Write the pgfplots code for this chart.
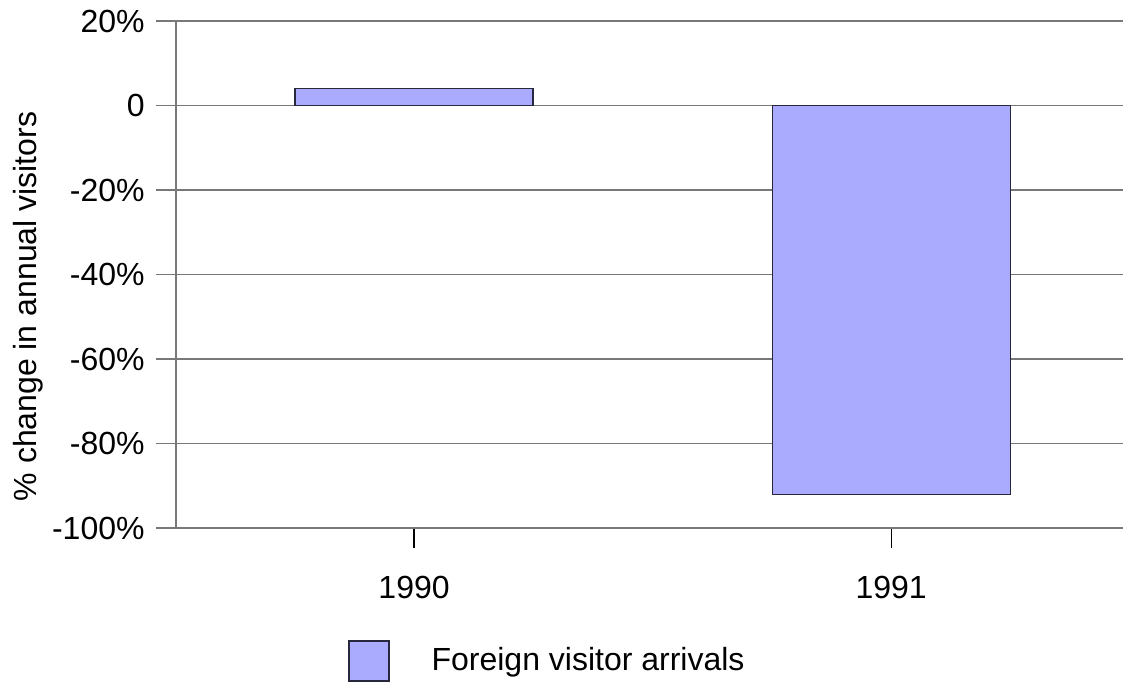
\documentclass[border=0pt]{standalone}
\usepackage{pgfplots}
\pgfplotsset{compat=1.18}
\usepackage{fontspec}
\setmainfont{Liberation Sans}
\definecolor{barfill}{RGB}{170,170,255}
\definecolor{baredge}{RGB}{40,40,60}
\definecolor{gridgray}{RGB}{120,120,120}
\begin{document}
\fontsize{16pt}{19pt}\selectfont
\begin{tikzpicture}
\begin{axis}[
  name=ax,
  scale only axis,
  width=473.5pt, height=253.5pt,
  xmin=-0.499, xmax=1.486,
  ymin=-100, ymax=20,
  axis lines*=left,
  axis line style={gridgray, line width=0.9pt},
  xtick={0,1},
  xticklabels={1990,1991},
  ytick={-100,-80,-60,-40,-20,0,20},
  yticklabels={-100\%,-80\%,-60\%,-40\%,-20\%,0,20\%},
  tick align=outside,
  major tick length=10pt,
  x tick style={black, line width=0.6pt},
  y tick style={gridgray, line width=0.9pt},
  ymajorgrids,
  major grid style={gridgray, line width=0.9pt},
  tick label style={font=\fontsize{16pt}{19pt}\selectfont},
  yticklabel style={inner sep=0pt, xshift=-5.5pt},
  xticklabel style={yshift=-8.5pt},
  ylabel={\% change in annual visitors},
  ylabel style={font=\fontsize{16pt}{19pt}\selectfont, at={(rel axis cs:0,0.5)}, anchor=center, xshift=-16pt, yshift=74pt},
  ybar,
  bar width=0.499,
  legend style={at={(0.1816,0)}, anchor=north west, yshift=-56pt, draw=none,
    inner sep=0pt, column sep=21pt, nodes={inner sep=0pt},
    font=\fontsize{16pt}{19pt}\selectfont},
  legend image code/.code={\draw[#1, line width=0.6pt] (0pt,-10pt) rectangle (20pt,10pt);},
]
\addplot[fill=barfill, draw=baredge, line width=0.6pt] coordinates {(0,4) (1,-92)};
\addlegendentry{Foreign visitor arrivals}
\end{axis}
\path (ax.south west) ++(-88pt,-77.5pt) rectangle ++(562.5pt,341.5pt);
\end{tikzpicture}
\end{document}
